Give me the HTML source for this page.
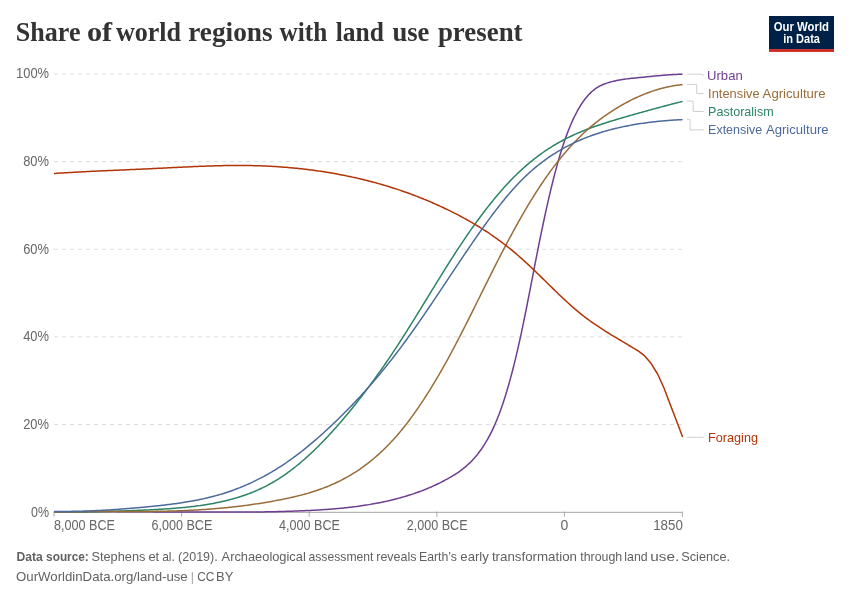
<!DOCTYPE html>
<html lang="en"><head><meta charset="utf-8"><title>Share of world regions with land use present</title>
<style>
html,body{margin:0;padding:0;background:#fff;}
body{width:850px;height:600px;overflow:hidden;font-family:"Liberation Sans",Arial,sans-serif;}
svg{display:block;}
svg text{font-family:"Liberation Sans",Arial,sans-serif;}
.title{font-family:"Liberation Serif","Times New Roman",serif;font-weight:700;font-size:28px;fill:#333;}
.ax{font-size:14px;fill:#666;}
.lab{font-size:13.3px;}
.foot{font-size:13px;fill:#616161;}
.logo{font-size:12px;font-weight:700;fill:#fff;}
.curves path{fill:none;stroke-width:1.5;stroke-linejoin:round;stroke-linecap:butt;}
.conn path{fill:none;stroke:#cfcfcf;stroke-width:1;}
</style></head>
<body>
<svg width="850" height="600" viewBox="0 0 850 600">
<rect width="850" height="600" fill="#fff"/>
<text y="40.5" class="title"><tspan x="15.80" textLength="64.70" lengthAdjust="spacingAndGlyphs">Share</tspan> <tspan x="87.00" textLength="25.20" lengthAdjust="spacingAndGlyphs">of</tspan> <tspan x="115.90" textLength="65.20" lengthAdjust="spacingAndGlyphs">world</tspan> <tspan x="188.20" textLength="84.50" lengthAdjust="spacingAndGlyphs">regions</tspan> <tspan x="279.50" textLength="47.70" lengthAdjust="spacingAndGlyphs">with</tspan> <tspan x="335.70" textLength="48.20" lengthAdjust="spacingAndGlyphs">land</tspan> <tspan x="392.40" textLength="37.00" lengthAdjust="spacingAndGlyphs">use</tspan> <tspan x="437.90" textLength="84.70" lengthAdjust="spacingAndGlyphs">present</tspan></text>
<g class="logo-g">
<rect x="769" y="16" width="65" height="33.2" fill="#002147"/>
<rect x="769" y="49.1" width="65" height="2.8" fill="#ce261e"/>
<text x="801.4" y="30.5" text-anchor="middle" class="logo" textLength="55.2" lengthAdjust="spacingAndGlyphs">Our World</text>
<text x="801.6" y="42.5" text-anchor="middle" class="logo" textLength="36.8" lengthAdjust="spacingAndGlyphs">in Data</text>
</g>
<g class="grid">
<text x="49.0" y="516.70" text-anchor="end" class="ax" textLength="18.0" lengthAdjust="spacingAndGlyphs">0%</text>
<line x1="54" x2="682.5" y1="424.55" y2="424.55" stroke="#dddddd" stroke-dasharray="4,4"/>
<text x="49.0" y="429.05" text-anchor="end" class="ax" textLength="25.85" lengthAdjust="spacingAndGlyphs">20%</text>
<line x1="54" x2="682.5" y1="336.90" y2="336.90" stroke="#dddddd" stroke-dasharray="4,4"/>
<text x="49.0" y="341.40" text-anchor="end" class="ax" textLength="25.85" lengthAdjust="spacingAndGlyphs">40%</text>
<line x1="54" x2="682.5" y1="249.25" y2="249.25" stroke="#dddddd" stroke-dasharray="4,4"/>
<text x="49.0" y="253.75" text-anchor="end" class="ax" textLength="25.85" lengthAdjust="spacingAndGlyphs">60%</text>
<line x1="54" x2="682.5" y1="161.60" y2="161.60" stroke="#dddddd" stroke-dasharray="4,4"/>
<text x="49.0" y="166.10" text-anchor="end" class="ax" textLength="25.85" lengthAdjust="spacingAndGlyphs">80%</text>
<line x1="54" x2="682.5" y1="73.95" y2="73.95" stroke="#dddddd" stroke-dasharray="4,4"/>
<text x="49.0" y="78.45" text-anchor="end" class="ax" textLength="32.9" lengthAdjust="spacingAndGlyphs">100%</text>
</g>
<g class="axis">
<line x1="54" x2="682.5" y1="512.3" y2="512.3" stroke="#a3a3a3"/>
<line x1="54" x2="54" y1="511.6" y2="516.9" stroke="#999" stroke-width="0.8"/>
<text x="54.0" y="530.0" text-anchor="start" class="ax" textLength="60.9" lengthAdjust="spacingAndGlyphs">8,000 BCE</text>
<line x1="181.6" x2="181.6" y1="511.6" y2="516.9" stroke="#999" stroke-width="0.8"/>
<text x="181.9" y="530.0" text-anchor="middle" class="ax" textLength="60.9" lengthAdjust="spacingAndGlyphs">6,000 BCE</text>
<line x1="309.2" x2="309.2" y1="511.6" y2="516.9" stroke="#999" stroke-width="0.8"/>
<text x="309.5" y="530.0" text-anchor="middle" class="ax" textLength="60.9" lengthAdjust="spacingAndGlyphs">4,000 BCE</text>
<line x1="436.8" x2="436.8" y1="511.6" y2="516.9" stroke="#999" stroke-width="0.8"/>
<text x="437.1" y="530.0" text-anchor="middle" class="ax" textLength="60.9" lengthAdjust="spacingAndGlyphs">2,000 BCE</text>
<line x1="564.4" x2="564.4" y1="511.6" y2="516.9" stroke="#999" stroke-width="0.8"/>
<text x="564.4" y="530.0" text-anchor="middle" class="ax">0</text>
<line x1="682.4" x2="682.4" y1="511.6" y2="516.9" stroke="#999" stroke-width="0.8"/>
<text x="682.9" y="530.0" text-anchor="end" class="ax" textLength="29.7" lengthAdjust="spacingAndGlyphs">1850</text>
</g>
<g class="curves">
<path d="M54.0,512.00L55.5,512.00L57.0,511.97L58.5,511.94L60.0,511.92L61.5,511.89L63.0,511.87L64.5,511.85L66.0,511.83L67.5,511.81L69.0,511.79L70.5,511.77L72.0,511.75L73.5,511.74L75.0,511.72L76.5,511.71L78.0,511.69L79.5,511.68L81.0,511.67L82.5,511.66L84.0,511.65L85.5,511.64L87.0,511.63L88.5,511.63L90.0,511.62L91.5,511.61L93.0,511.61L94.5,511.61L96.0,511.60L97.5,511.60L99.0,511.60L100.5,511.60L102.0,511.60L103.5,511.60L105.0,511.60L106.5,511.60L108.0,511.60L109.5,511.61L111.0,511.61L112.5,511.61L114.0,511.62L115.5,511.62L117.0,511.63L118.5,511.63L120.0,511.64L121.5,511.65L123.0,511.65L124.5,511.66L126.0,511.67L127.5,511.68L129.0,511.69L130.5,511.70L132.0,511.71L133.5,511.72L135.0,511.73L136.5,511.74L138.0,511.75L139.5,511.76L141.0,511.77L142.5,511.78L144.0,511.79L145.5,511.81L147.0,511.82L148.5,511.83L150.0,511.84L151.5,511.86L153.0,511.87L154.5,511.88L156.0,511.89L157.5,511.91L159.0,511.92L160.5,511.93L162.0,511.95L163.5,511.96L165.0,511.97L166.5,511.98L168.0,512.00L169.5,512.00L171.0,512.00L172.5,512.00L174.0,512.00L175.5,512.00L177.0,512.00L178.5,512.00L180.0,512.00L181.5,512.00L183.0,512.00L184.5,512.00L186.0,512.00L187.5,512.00L189.0,512.00L190.5,512.00L192.0,512.00L193.5,512.00L195.0,512.00L196.5,512.00L198.0,512.00L199.5,512.00L201.0,512.00L202.5,512.00L204.0,512.00L205.5,512.00L207.0,512.00L208.5,512.00L210.0,512.00L211.5,512.00L213.0,512.00L214.5,512.00L216.0,512.00L217.5,512.00L219.0,512.00L220.5,512.00L222.0,512.00L223.5,512.00L225.0,512.00L226.5,512.00L228.0,512.00L229.5,512.00L231.0,512.00L232.5,512.00L234.0,512.00L235.5,512.00L237.0,512.00L238.5,512.00L240.0,512.00L241.5,512.00L243.0,512.00L244.5,512.00L246.0,512.00L247.5,512.00L249.0,512.00L250.5,512.00L252.0,512.00L253.5,512.00L255.0,512.00L256.5,512.00L258.0,511.99L259.5,511.97L261.0,511.95L262.5,511.92L264.0,511.89L265.5,511.87L267.0,511.84L268.5,511.81L270.0,511.78L271.5,511.74L273.0,511.71L274.5,511.67L276.0,511.64L277.5,511.60L279.0,511.56L280.5,511.52L282.0,511.48L283.5,511.43L285.0,511.39L286.5,511.34L288.0,511.30L289.5,511.25L291.0,511.20L292.5,511.14L294.0,511.09L295.5,511.04L297.0,510.98L298.5,510.92L300.0,510.86L301.5,510.80L303.0,510.74L304.5,510.67L306.0,510.61L307.5,510.54L309.0,510.47L310.5,510.40L312.0,510.32L313.5,510.24L315.0,510.16L316.5,510.08L318.0,509.99L319.5,509.91L321.0,509.81L322.5,509.72L324.0,509.62L325.5,509.52L327.0,509.41L328.5,509.31L330.0,509.19L331.5,509.08L333.0,508.96L334.5,508.84L336.0,508.71L337.5,508.58L339.0,508.44L340.5,508.30L342.0,508.15L343.5,508.00L345.0,507.85L346.5,507.69L348.0,507.52L349.5,507.35L351.0,507.18L352.5,507.00L354.0,506.81L355.5,506.62L357.0,506.42L358.5,506.22L360.0,506.01L361.5,505.79L363.0,505.57L364.5,505.35L366.0,505.11L367.5,504.87L369.0,504.63L370.5,504.37L372.0,504.11L373.5,503.84L375.0,503.57L376.5,503.29L378.0,503.00L379.5,502.71L381.0,502.40L382.5,502.09L384.0,501.77L385.5,501.45L387.0,501.11L388.5,500.77L390.0,500.42L391.5,500.06L393.0,499.69L394.5,499.32L396.0,498.93L397.5,498.54L399.0,498.14L400.5,497.73L402.0,497.31L403.5,496.88L405.0,496.44L406.5,496.00L408.0,495.54L409.5,495.07L411.0,494.59L412.5,494.10L414.0,493.60L415.5,493.08L417.0,492.56L418.5,492.02L420.0,491.47L421.5,490.91L423.0,490.33L424.5,489.74L426.0,489.14L427.5,488.52L429.0,487.89L430.5,487.25L432.0,486.59L433.5,485.92L435.0,485.23L436.5,484.52L438.0,483.80L439.5,483.07L441.0,482.31L442.5,481.54L444.0,480.76L445.5,479.95L447.0,479.13L448.5,478.29L450.0,477.44L451.5,476.56L453.0,475.67L454.5,474.74L456.0,473.79L457.5,472.80L459.0,471.77L460.5,470.70L462.0,469.58L463.5,468.41L465.0,467.19L466.5,465.91L468.0,464.56L469.5,463.15L471.0,461.67L472.5,460.11L474.0,458.47L475.5,456.75L477.0,454.94L478.5,453.04L480.0,451.04L481.5,448.95L483.0,446.74L484.5,444.42L486.0,441.98L487.5,439.41L489.0,436.69L490.5,433.83L492.0,430.82L493.5,427.64L495.0,424.30L496.5,420.77L498.0,417.06L499.5,413.16L501.0,409.06L502.5,404.75L504.0,400.24L505.5,395.52L507.0,390.59L508.5,385.46L510.0,380.12L511.5,374.57L513.0,368.81L514.5,362.84L516.0,356.66L517.5,350.27L519.0,343.66L520.5,336.84L522.0,329.82L523.5,322.62L525.0,315.26L526.5,307.78L528.0,300.20L529.5,292.54L531.0,284.83L532.5,277.10L534.0,269.37L535.5,261.68L537.0,254.03L538.5,246.47L540.0,239.02L541.5,231.69L543.0,224.51L544.5,217.47L546.0,210.59L547.5,203.87L549.0,197.32L550.5,190.94L552.0,184.75L553.5,178.74L555.0,172.93L556.5,167.33L558.0,161.93L559.5,156.75L561.0,151.79L562.5,147.06L564.0,142.54L565.5,138.23L567.0,134.13L568.5,130.23L570.0,126.53L571.5,123.01L573.0,119.68L574.5,116.52L576.0,113.54L577.5,110.73L579.0,108.08L580.5,105.60L582.0,103.27L583.5,101.09L585.0,99.06L586.5,97.18L588.0,95.44L589.5,93.84L591.0,92.37L592.5,91.03L594.0,89.81L595.5,88.69L597.0,87.69L598.5,86.78L600.0,85.95L601.5,85.21L603.0,84.54L604.5,83.94L606.0,83.39L607.5,82.89L609.0,82.43L610.5,82.01L612.0,81.62L613.5,81.25L615.0,80.90L616.5,80.58L618.0,80.29L619.5,80.01L621.0,79.75L622.5,79.51L624.0,79.28L625.5,79.07L627.0,78.88L628.5,78.69L630.0,78.51L631.5,78.34L633.0,78.18L634.5,78.03L636.0,77.88L637.5,77.73L639.0,77.58L640.5,77.43L642.0,77.28L643.5,77.13L645.0,76.98L646.5,76.83L648.0,76.68L649.5,76.53L651.0,76.38L652.5,76.23L654.0,76.09L655.5,75.94L657.0,75.80L658.5,75.66L660.0,75.53L661.5,75.40L663.0,75.27L664.5,75.15L666.0,75.04L667.5,74.93L669.0,74.82L670.5,74.72L672.0,74.63L673.5,74.55L675.0,74.47L676.5,74.40L678.0,74.34L679.5,74.29L681.0,74.25L682.5,74.22L682.6,74.22" stroke="#6D3E91"/>
<path d="M54.0,511.99L55.5,512.00L57.0,512.00L58.5,512.00L60.0,512.00L61.5,512.00L63.0,512.00L64.5,512.00L66.0,512.00L67.5,512.00L69.0,512.00L70.5,512.00L72.0,512.00L73.5,512.00L75.0,512.00L76.5,511.99L78.0,511.98L79.5,511.97L81.0,511.95L82.5,511.94L84.0,511.92L85.5,511.90L87.0,511.88L88.5,511.86L90.0,511.83L91.5,511.81L93.0,511.78L94.5,511.75L96.0,511.72L97.5,511.69L99.0,511.66L100.5,511.63L102.0,511.59L103.5,511.56L105.0,511.52L106.5,511.48L108.0,511.44L109.5,511.40L111.0,511.36L112.5,511.31L114.0,511.27L115.5,511.22L117.0,511.17L118.5,511.12L120.0,511.07L121.5,511.02L123.0,510.97L124.5,510.91L126.0,510.86L127.5,510.80L129.0,510.74L130.5,510.68L132.0,510.62L133.5,510.56L135.0,510.50L136.5,510.43L138.0,510.37L139.5,510.30L141.0,510.23L142.5,510.16L144.0,510.09L145.5,510.02L147.0,509.95L148.5,509.88L150.0,509.80L151.5,509.72L153.0,509.65L154.5,509.57L156.0,509.49L157.5,509.41L159.0,509.32L160.5,509.23L162.0,509.15L163.5,509.05L165.0,508.96L166.5,508.86L168.0,508.76L169.5,508.66L171.0,508.55L172.5,508.44L174.0,508.33L175.5,508.21L177.0,508.09L178.5,507.96L180.0,507.83L181.5,507.69L183.0,507.55L184.5,507.40L186.0,507.25L187.5,507.10L189.0,506.93L190.5,506.77L192.0,506.59L193.5,506.41L195.0,506.22L196.5,506.03L198.0,505.83L199.5,505.63L201.0,505.41L202.5,505.19L204.0,504.96L205.5,504.73L207.0,504.48L208.5,504.23L210.0,503.97L211.5,503.71L213.0,503.43L214.5,503.15L216.0,502.85L217.5,502.55L219.0,502.24L220.5,501.92L222.0,501.59L223.5,501.25L225.0,500.90L226.5,500.53L228.0,500.16L229.5,499.78L231.0,499.38L232.5,498.98L234.0,498.56L235.5,498.13L237.0,497.68L238.5,497.22L240.0,496.75L241.5,496.27L243.0,495.77L244.5,495.25L246.0,494.72L247.5,494.18L249.0,493.62L250.5,493.04L252.0,492.45L253.5,491.84L255.0,491.21L256.5,490.57L258.0,489.91L259.5,489.23L261.0,488.53L262.5,487.81L264.0,487.08L265.5,486.32L267.0,485.55L268.5,484.76L270.0,483.94L271.5,483.11L273.0,482.25L274.5,481.37L276.0,480.47L277.5,479.55L279.0,478.61L280.5,477.64L282.0,476.65L283.5,475.64L285.0,474.60L286.5,473.55L288.0,472.47L289.5,471.37L291.0,470.24L292.5,469.10L294.0,467.94L295.5,466.75L297.0,465.54L298.5,464.31L300.0,463.06L301.5,461.80L303.0,460.51L304.5,459.20L306.0,457.87L307.5,456.52L309.0,455.15L310.5,453.76L312.0,452.36L313.5,450.93L315.0,449.49L316.5,448.03L318.0,446.55L319.5,445.05L321.0,443.53L322.5,442.00L324.0,440.45L325.5,438.88L327.0,437.30L328.5,435.69L330.0,434.08L331.5,432.44L333.0,430.79L334.5,429.12L336.0,427.44L337.5,425.74L339.0,424.03L340.5,422.30L342.0,420.55L343.5,418.79L345.0,417.02L346.5,415.23L348.0,413.42L349.5,411.60L351.0,409.77L352.5,407.92L354.0,406.05L355.5,404.17L357.0,402.28L358.5,400.37L360.0,398.44L361.5,396.50L363.0,394.55L364.5,392.58L366.0,390.60L367.5,388.60L369.0,386.58L370.5,384.56L372.0,382.51L373.5,380.46L375.0,378.38L376.5,376.30L378.0,374.19L379.5,372.08L381.0,369.95L382.5,367.80L384.0,365.64L385.5,363.47L387.0,361.28L388.5,359.08L390.0,356.86L391.5,354.63L393.0,352.38L394.5,350.12L396.0,347.84L397.5,345.55L399.0,343.25L400.5,340.93L402.0,338.60L403.5,336.25L405.0,333.90L406.5,331.53L408.0,329.15L409.5,326.75L411.0,324.35L412.5,321.95L414.0,319.53L415.5,317.11L417.0,314.68L418.5,312.24L420.0,309.80L421.5,307.36L423.0,304.91L424.5,302.46L426.0,300.01L427.5,297.56L429.0,295.11L430.5,292.66L432.0,290.21L433.5,287.77L435.0,285.32L436.5,282.89L438.0,280.45L439.5,278.02L441.0,275.60L442.5,273.19L444.0,270.78L445.5,268.38L447.0,265.99L448.5,263.61L450.0,261.25L451.5,258.89L453.0,256.55L454.5,254.22L456.0,251.90L457.5,249.60L459.0,247.32L460.5,245.05L462.0,242.80L463.5,240.56L465.0,238.35L466.5,236.15L468.0,233.97L469.5,231.81L471.0,229.66L472.5,227.54L474.0,225.43L475.5,223.34L477.0,221.28L478.5,219.23L480.0,217.20L481.5,215.19L483.0,213.20L484.5,211.24L486.0,209.29L487.5,207.36L489.0,205.46L490.5,203.57L492.0,201.71L493.5,199.87L495.0,198.05L496.5,196.26L498.0,194.48L499.5,192.73L501.0,191.00L502.5,189.30L504.0,187.62L505.5,185.96L507.0,184.33L508.5,182.72L510.0,181.13L511.5,179.57L513.0,178.03L514.5,176.52L516.0,175.03L517.5,173.57L519.0,172.14L520.5,170.73L522.0,169.34L523.5,167.98L525.0,166.65L526.5,165.34L528.0,164.06L529.5,162.80L531.0,161.56L532.5,160.35L534.0,159.16L535.5,157.99L537.0,156.85L538.5,155.72L540.0,154.62L541.5,153.55L543.0,152.49L544.5,151.45L546.0,150.44L547.5,149.44L549.0,148.46L550.5,147.51L552.0,146.57L553.5,145.65L555.0,144.75L556.5,143.87L558.0,143.01L559.5,142.16L561.0,141.33L562.5,140.52L564.0,139.73L565.5,138.95L567.0,138.19L568.5,137.44L570.0,136.71L571.5,135.99L573.0,135.29L574.5,134.60L576.0,133.92L577.5,133.26L579.0,132.62L580.5,131.98L582.0,131.36L583.5,130.75L585.0,130.15L586.5,129.56L588.0,128.98L589.5,128.41L591.0,127.85L592.5,127.30L594.0,126.76L595.5,126.23L597.0,125.71L598.5,125.20L600.0,124.69L601.5,124.19L603.0,123.70L604.5,123.21L606.0,122.73L607.5,122.26L609.0,121.79L610.5,121.32L612.0,120.86L613.5,120.41L615.0,119.95L616.5,119.50L618.0,119.06L619.5,118.61L621.0,118.17L622.5,117.73L624.0,117.30L625.5,116.86L627.0,116.43L628.5,115.99L630.0,115.56L631.5,115.14L633.0,114.71L634.5,114.28L636.0,113.86L637.5,113.44L639.0,113.02L640.5,112.60L642.0,112.18L643.5,111.77L645.0,111.35L646.5,110.94L648.0,110.53L649.5,110.12L651.0,109.71L652.5,109.30L654.0,108.89L655.5,108.49L657.0,108.08L658.5,107.68L660.0,107.28L661.5,106.88L663.0,106.48L664.5,106.08L666.0,105.68L667.5,105.28L669.0,104.88L670.5,104.49L672.0,104.09L673.5,103.70L675.0,103.30L676.5,102.91L678.0,102.51L679.5,102.12L681.0,101.73L682.5,101.34L682.6,101.31" stroke="#2C8465"/>
<path d="M54.0,512.00L55.5,511.98L57.0,511.95L58.5,511.92L60.0,511.89L61.5,511.86L63.0,511.84L64.5,511.81L66.0,511.79L67.5,511.77L69.0,511.75L70.5,511.73L72.0,511.71L73.5,511.70L75.0,511.68L76.5,511.67L78.0,511.66L79.5,511.65L81.0,511.64L82.5,511.63L84.0,511.62L85.5,511.62L87.0,511.61L88.5,511.60L90.0,511.60L91.5,511.60L93.0,511.59L94.5,511.59L96.0,511.59L97.5,511.59L99.0,511.59L100.5,511.59L102.0,511.59L103.5,511.59L105.0,511.59L106.5,511.59L108.0,511.59L109.5,511.59L111.0,511.59L112.5,511.59L114.0,511.59L115.5,511.59L117.0,511.59L118.5,511.59L120.0,511.59L121.5,511.59L123.0,511.59L124.5,511.59L126.0,511.59L127.5,511.58L129.0,511.58L130.5,511.58L132.0,511.57L133.5,511.57L135.0,511.56L136.5,511.56L138.0,511.55L139.5,511.54L141.0,511.53L142.5,511.52L144.0,511.51L145.5,511.49L147.0,511.48L148.5,511.46L150.0,511.45L151.5,511.43L153.0,511.41L154.5,511.39L156.0,511.37L157.5,511.34L159.0,511.32L160.5,511.29L162.0,511.26L163.5,511.23L165.0,511.19L166.5,511.16L168.0,511.12L169.5,511.08L171.0,511.04L172.5,511.00L174.0,510.96L175.5,510.91L177.0,510.86L178.5,510.81L180.0,510.75L181.5,510.70L183.0,510.64L184.5,510.58L186.0,510.51L187.5,510.44L189.0,510.37L190.5,510.30L192.0,510.23L193.5,510.15L195.0,510.07L196.5,509.99L198.0,509.90L199.5,509.81L201.0,509.72L202.5,509.62L204.0,509.52L205.5,509.42L207.0,509.31L208.5,509.21L210.0,509.09L211.5,508.98L213.0,508.86L214.5,508.74L216.0,508.61L217.5,508.49L219.0,508.35L220.5,508.22L222.0,508.08L223.5,507.94L225.0,507.79L226.5,507.64L228.0,507.49L229.5,507.33L231.0,507.17L232.5,507.01L234.0,506.84L235.5,506.67L237.0,506.50L238.5,506.32L240.0,506.14L241.5,505.95L243.0,505.76L244.5,505.57L246.0,505.37L247.5,505.17L249.0,504.97L250.5,504.76L252.0,504.55L253.5,504.33L255.0,504.11L256.5,503.88L258.0,503.65L259.5,503.42L261.0,503.19L262.5,502.94L264.0,502.70L265.5,502.45L267.0,502.20L268.5,501.94L270.0,501.68L271.5,501.41L273.0,501.14L274.5,500.87L276.0,500.59L277.5,500.30L279.0,500.02L280.5,499.72L282.0,499.43L283.5,499.13L285.0,498.82L286.5,498.51L288.0,498.19L289.5,497.86L291.0,497.53L292.5,497.20L294.0,496.85L295.5,496.50L297.0,496.14L298.5,495.77L300.0,495.39L301.5,495.00L303.0,494.60L304.5,494.20L306.0,493.78L307.5,493.35L309.0,492.91L310.5,492.46L312.0,492.00L313.5,491.53L315.0,491.04L316.5,490.55L318.0,490.04L319.5,489.51L321.0,488.97L322.5,488.42L324.0,487.85L325.5,487.27L327.0,486.68L328.5,486.07L330.0,485.44L331.5,484.80L333.0,484.14L334.5,483.46L336.0,482.76L337.5,482.05L339.0,481.32L340.5,480.58L342.0,479.81L343.5,479.02L345.0,478.22L346.5,477.40L348.0,476.55L349.5,475.69L351.0,474.80L352.5,473.89L354.0,472.96L355.5,472.01L357.0,471.04L358.5,470.04L360.0,469.03L361.5,467.98L363.0,466.92L364.5,465.83L366.0,464.71L367.5,463.57L369.0,462.40L370.5,461.21L372.0,459.99L373.5,458.75L375.0,457.48L376.5,456.18L378.0,454.85L379.5,453.50L381.0,452.11L382.5,450.70L384.0,449.26L385.5,447.79L387.0,446.29L388.5,444.75L390.0,443.19L391.5,441.60L393.0,439.97L394.5,438.32L396.0,436.63L397.5,434.90L399.0,433.15L400.5,431.36L402.0,429.54L403.5,427.68L405.0,425.80L406.5,423.87L408.0,421.92L409.5,419.94L411.0,417.92L412.5,415.87L414.0,413.79L415.5,411.67L417.0,409.53L418.5,407.35L420.0,405.15L421.5,402.91L423.0,400.65L424.5,398.35L426.0,396.03L427.5,393.68L429.0,391.29L430.5,388.88L432.0,386.44L433.5,383.97L435.0,381.48L436.5,378.96L438.0,376.40L439.5,373.83L441.0,371.22L442.5,368.59L444.0,365.93L445.5,363.25L447.0,360.54L448.5,357.80L450.0,355.04L451.5,352.26L453.0,349.45L454.5,346.61L456.0,343.76L457.5,340.89L459.0,337.99L460.5,335.08L462.0,332.16L463.5,329.21L465.0,326.26L466.5,323.29L468.0,320.31L469.5,317.32L471.0,314.32L472.5,311.32L474.0,308.31L475.5,305.29L477.0,302.27L478.5,299.24L480.0,296.22L481.5,293.19L483.0,290.17L484.5,287.14L486.0,284.13L487.5,281.11L489.0,278.11L490.5,275.11L492.0,272.11L493.5,269.13L495.0,266.16L496.5,263.20L498.0,260.26L499.5,257.33L501.0,254.41L502.5,251.52L504.0,248.64L505.5,245.78L507.0,242.93L508.5,240.11L510.0,237.31L511.5,234.52L513.0,231.76L514.5,229.02L516.0,226.30L517.5,223.61L519.0,220.93L520.5,218.28L522.0,215.66L523.5,213.06L525.0,210.49L526.5,207.94L528.0,205.42L529.5,202.92L531.0,200.46L532.5,198.02L534.0,195.61L535.5,193.24L537.0,190.89L538.5,188.57L540.0,186.28L541.5,184.03L543.0,181.81L544.5,179.62L546.0,177.46L547.5,175.33L549.0,173.23L550.5,171.17L552.0,169.13L553.5,167.13L555.0,165.16L556.5,163.22L558.0,161.30L559.5,159.42L561.0,157.57L562.5,155.75L564.0,153.96L565.5,152.20L567.0,150.46L568.5,148.76L570.0,147.09L571.5,145.44L573.0,143.83L574.5,142.24L576.0,140.69L577.5,139.16L579.0,137.66L580.5,136.19L582.0,134.74L583.5,133.32L585.0,131.94L586.5,130.57L588.0,129.24L589.5,127.93L591.0,126.64L592.5,125.38L594.0,124.15L595.5,122.94L597.0,121.75L598.5,120.58L600.0,119.44L601.5,118.32L603.0,117.22L604.5,116.15L606.0,115.09L607.5,114.06L609.0,113.04L610.5,112.05L612.0,111.07L613.5,110.11L615.0,109.17L616.5,108.25L618.0,107.34L619.5,106.46L621.0,105.58L622.5,104.73L624.0,103.89L625.5,103.07L627.0,102.26L628.5,101.47L630.0,100.70L631.5,99.94L633.0,99.20L634.5,98.48L636.0,97.78L637.5,97.09L639.0,96.42L640.5,95.76L642.0,95.12L643.5,94.50L645.0,93.90L646.5,93.31L648.0,92.75L649.5,92.20L651.0,91.66L652.5,91.15L654.0,90.65L655.5,90.17L657.0,89.71L658.5,89.26L660.0,88.84L661.5,88.43L663.0,88.04L664.5,87.67L666.0,87.32L667.5,86.98L669.0,86.66L670.5,86.37L672.0,86.09L673.5,85.82L675.0,85.58L676.5,85.36L678.0,85.15L679.5,84.97L681.0,84.80L682.5,84.65L682.6,84.64" stroke="#996D39"/>
<path d="M54.0,173.53L55.5,173.43L57.0,173.32L58.5,173.22L60.0,173.12L61.5,173.03L63.0,172.93L64.5,172.83L66.0,172.74L67.5,172.65L69.0,172.56L70.5,172.47L72.0,172.38L73.5,172.30L75.0,172.21L76.5,172.13L78.0,172.05L79.5,171.96L81.0,171.88L82.5,171.81L84.0,171.73L85.5,171.65L87.0,171.58L88.5,171.50L90.0,171.43L91.5,171.35L93.0,171.28L94.5,171.21L96.0,171.14L97.5,171.07L99.0,171.00L100.5,170.93L102.0,170.86L103.5,170.79L105.0,170.73L106.5,170.66L108.0,170.59L109.5,170.53L111.0,170.46L112.5,170.39L114.0,170.33L115.5,170.26L117.0,170.20L118.5,170.13L120.0,170.07L121.5,170.01L123.0,169.94L124.5,169.88L126.0,169.81L127.5,169.75L129.0,169.68L130.5,169.62L132.0,169.55L133.5,169.49L135.0,169.42L136.5,169.35L138.0,169.29L139.5,169.22L141.0,169.15L142.5,169.08L144.0,169.02L145.5,168.95L147.0,168.88L148.5,168.81L150.0,168.73L151.5,168.66L153.0,168.59L154.5,168.52L156.0,168.44L157.5,168.37L159.0,168.29L160.5,168.22L162.0,168.14L163.5,168.07L165.0,167.99L166.5,167.91L168.0,167.84L169.5,167.76L171.0,167.69L172.5,167.61L174.0,167.54L175.5,167.46L177.0,167.39L178.5,167.31L180.0,167.24L181.5,167.16L183.0,167.09L184.5,167.02L186.0,166.95L187.5,166.88L189.0,166.81L190.5,166.74L192.0,166.67L193.5,166.61L195.0,166.54L196.5,166.48L198.0,166.42L199.5,166.36L201.0,166.30L202.5,166.24L204.0,166.18L205.5,166.13L207.0,166.07L208.5,166.02L210.0,165.97L211.5,165.93L213.0,165.88L214.5,165.84L216.0,165.80L217.5,165.76L219.0,165.72L220.5,165.69L222.0,165.65L223.5,165.62L225.0,165.60L226.5,165.57L228.0,165.55L229.5,165.53L231.0,165.52L232.5,165.50L234.0,165.49L235.5,165.48L237.0,165.48L238.5,165.48L240.0,165.48L241.5,165.48L243.0,165.49L244.5,165.50L246.0,165.52L247.5,165.54L249.0,165.56L250.5,165.59L252.0,165.62L253.5,165.65L255.0,165.69L256.5,165.73L258.0,165.77L259.5,165.82L261.0,165.87L262.5,165.93L264.0,165.99L265.5,166.06L267.0,166.12L268.5,166.20L270.0,166.27L271.5,166.35L273.0,166.43L274.5,166.52L276.0,166.61L277.5,166.71L279.0,166.81L280.5,166.91L282.0,167.02L283.5,167.14L285.0,167.25L286.5,167.37L288.0,167.50L289.5,167.63L291.0,167.76L292.5,167.90L294.0,168.04L295.5,168.19L297.0,168.34L298.5,168.49L300.0,168.65L301.5,168.81L303.0,168.98L304.5,169.15L306.0,169.33L307.5,169.51L309.0,169.70L310.5,169.89L312.0,170.08L313.5,170.28L315.0,170.49L316.5,170.70L318.0,170.91L319.5,171.13L321.0,171.35L322.5,171.58L324.0,171.81L325.5,172.04L327.0,172.29L328.5,172.53L330.0,172.78L331.5,173.04L333.0,173.30L334.5,173.56L336.0,173.83L337.5,174.11L339.0,174.39L340.5,174.67L342.0,174.96L343.5,175.26L345.0,175.55L346.5,175.86L348.0,176.17L349.5,176.48L351.0,176.80L352.5,177.13L354.0,177.46L355.5,177.79L357.0,178.13L358.5,178.48L360.0,178.83L361.5,179.18L363.0,179.54L364.5,179.91L366.0,180.28L367.5,180.66L369.0,181.04L370.5,181.43L372.0,181.82L373.5,182.22L375.0,182.63L376.5,183.04L378.0,183.45L379.5,183.88L381.0,184.30L382.5,184.74L384.0,185.18L385.5,185.62L387.0,186.07L388.5,186.53L390.0,187.00L391.5,187.46L393.0,187.94L394.5,188.42L396.0,188.91L397.5,189.40L399.0,189.90L400.5,190.41L402.0,190.92L403.5,191.44L405.0,191.97L406.5,192.50L408.0,193.04L409.5,193.58L411.0,194.13L412.5,194.69L414.0,195.26L415.5,195.83L417.0,196.41L418.5,196.99L420.0,197.58L421.5,198.18L423.0,198.78L424.5,199.40L426.0,200.02L427.5,200.64L429.0,201.27L430.5,201.91L432.0,202.56L433.5,203.21L435.0,203.87L436.5,204.54L438.0,205.22L439.5,205.90L441.0,206.59L442.5,207.29L444.0,207.99L445.5,208.70L447.0,209.42L448.5,210.15L450.0,210.88L451.5,211.63L453.0,212.37L454.5,213.13L456.0,213.90L457.5,214.67L459.0,215.45L460.5,216.25L462.0,217.05L463.5,217.86L465.0,218.67L466.5,219.50L468.0,220.34L469.5,221.19L471.0,222.05L472.5,222.92L474.0,223.80L475.5,224.69L477.0,225.59L478.5,226.51L480.0,227.43L481.5,228.37L483.0,229.32L484.5,230.28L486.0,231.25L487.5,232.24L489.0,233.24L490.5,234.25L492.0,235.28L493.5,236.32L495.0,237.37L496.5,238.44L498.0,239.52L499.5,240.61L501.0,241.72L502.5,242.85L504.0,243.99L505.5,245.14L507.0,246.31L508.5,247.50L510.0,248.70L511.5,249.92L513.0,251.15L514.5,252.40L516.0,253.67L517.5,254.95L519.0,256.25L520.5,257.57L522.0,258.91L523.5,260.26L525.0,261.62L526.5,263.00L528.0,264.40L529.5,265.80L531.0,267.22L532.5,268.65L534.0,270.09L535.5,271.53L537.0,272.98L538.5,274.44L540.0,275.90L541.5,277.37L543.0,278.84L544.5,280.31L546.0,281.78L547.5,283.25L549.0,284.73L550.5,286.20L552.0,287.66L553.5,289.13L555.0,290.58L556.5,292.04L558.0,293.48L559.5,294.92L561.0,296.35L562.5,297.76L564.0,299.17L565.5,300.57L567.0,301.95L568.5,303.32L570.0,304.67L571.5,306.01L573.0,307.33L574.5,308.63L576.0,309.91L577.5,311.17L579.0,312.41L580.5,313.63L582.0,314.83L583.5,316.01L585.0,317.16L586.5,318.30L588.0,319.41L589.5,320.51L591.0,321.59L592.5,322.65L594.0,323.69L595.5,324.72L597.0,325.74L598.5,326.74L600.0,327.73L601.5,328.71L603.0,329.67L604.5,330.63L606.0,331.57L607.5,332.51L609.0,333.43L610.5,334.35L612.0,335.27L613.5,336.17L615.0,337.07L616.5,337.97L618.0,338.87L619.5,339.76L621.0,340.64L622.5,341.53L624.0,342.42L625.5,343.31L627.0,344.20L628.5,345.09L630.0,345.98L631.5,346.87L633.0,347.78L634.5,348.68L636.0,349.59L637.5,350.51L638.2,350.94L644.7,355.90L651.2,363.60L657.6,374.00L664.0,388.00L670.9,406.20L677.9,424.40L682.6,437.00" stroke="#B13507"/>
<path d="M54.0,511.38L55.5,511.40L57.0,511.41L58.5,511.43L60.0,511.43L61.5,511.44L63.0,511.44L64.5,511.43L66.0,511.43L67.5,511.42L69.0,511.41L70.5,511.39L72.0,511.37L73.5,511.35L75.0,511.32L76.5,511.29L78.0,511.26L79.5,511.22L81.0,511.18L82.5,511.14L84.0,511.09L85.5,511.04L87.0,510.99L88.5,510.94L90.0,510.88L91.5,510.82L93.0,510.75L94.5,510.69L96.0,510.62L97.5,510.55L99.0,510.47L100.5,510.40L102.0,510.32L103.5,510.23L105.0,510.15L106.5,510.06L108.0,509.97L109.5,509.88L111.0,509.78L112.5,509.68L114.0,509.58L115.5,509.48L117.0,509.38L118.5,509.27L120.0,509.16L121.5,509.05L123.0,508.93L124.5,508.82L126.0,508.70L127.5,508.58L129.0,508.46L130.5,508.33L132.0,508.21L133.5,508.08L135.0,507.95L136.5,507.82L138.0,507.68L139.5,507.55L141.0,507.41L142.5,507.27L144.0,507.13L145.5,506.99L147.0,506.84L148.5,506.70L150.0,506.55L151.5,506.40L153.0,506.25L154.5,506.10L156.0,505.95L157.5,505.79L159.0,505.63L160.5,505.47L162.0,505.30L163.5,505.13L165.0,504.96L166.5,504.79L168.0,504.61L169.5,504.42L171.0,504.24L172.5,504.04L174.0,503.85L175.5,503.65L177.0,503.44L178.5,503.23L180.0,503.01L181.5,502.79L183.0,502.56L184.5,502.33L186.0,502.09L187.5,501.84L189.0,501.59L190.5,501.33L192.0,501.06L193.5,500.78L195.0,500.50L196.5,500.21L198.0,499.91L199.5,499.61L201.0,499.29L202.5,498.97L204.0,498.64L205.5,498.30L207.0,497.95L208.5,497.59L210.0,497.22L211.5,496.84L213.0,496.45L214.5,496.06L216.0,495.65L217.5,495.23L219.0,494.80L220.5,494.36L222.0,493.91L223.5,493.44L225.0,492.97L226.5,492.48L228.0,491.98L229.5,491.48L231.0,490.95L232.5,490.42L234.0,489.88L235.5,489.32L237.0,488.75L238.5,488.17L240.0,487.58L241.5,486.97L243.0,486.35L244.5,485.72L246.0,485.08L247.5,484.42L249.0,483.75L250.5,483.07L252.0,482.37L253.5,481.66L255.0,480.94L256.5,480.20L258.0,479.45L259.5,478.69L261.0,477.91L262.5,477.12L264.0,476.32L265.5,475.50L267.0,474.66L268.5,473.82L270.0,472.96L271.5,472.08L273.0,471.19L274.5,470.28L276.0,469.36L277.5,468.43L279.0,467.48L280.5,466.51L282.0,465.53L283.5,464.54L285.0,463.53L286.5,462.50L288.0,461.46L289.5,460.41L291.0,459.34L292.5,458.26L294.0,457.16L295.5,456.05L297.0,454.92L298.5,453.79L300.0,452.63L301.5,451.47L303.0,450.29L304.5,449.10L306.0,447.89L307.5,446.67L309.0,445.44L310.5,444.20L312.0,442.94L313.5,441.67L315.0,440.39L316.5,439.09L318.0,437.79L319.5,436.47L321.0,435.14L322.5,433.79L324.0,432.44L325.5,431.07L327.0,429.70L328.5,428.31L330.0,426.91L331.5,425.50L333.0,424.08L334.5,422.64L336.0,421.20L337.5,419.75L339.0,418.28L340.5,416.81L342.0,415.32L343.5,413.82L345.0,412.32L346.5,410.80L348.0,409.27L349.5,407.73L351.0,406.18L352.5,404.62L354.0,403.05L355.5,401.46L357.0,399.87L358.5,398.26L360.0,396.64L361.5,395.00L363.0,393.36L364.5,391.70L366.0,390.03L367.5,388.35L369.0,386.66L370.5,384.95L372.0,383.23L373.5,381.49L375.0,379.74L376.5,377.98L378.0,376.21L379.5,374.42L381.0,372.62L382.5,370.80L384.0,368.97L385.5,367.12L387.0,365.26L388.5,363.39L390.0,361.50L391.5,359.59L393.0,357.68L394.5,355.74L396.0,353.79L397.5,351.83L399.0,349.85L400.5,347.85L402.0,345.84L403.5,343.81L405.0,341.77L406.5,339.71L408.0,337.64L409.5,335.56L411.0,333.47L412.5,331.36L414.0,329.24L415.5,327.11L417.0,324.97L418.5,322.82L420.0,320.66L421.5,318.49L423.0,316.31L424.5,314.12L426.0,311.92L427.5,309.72L429.0,307.51L430.5,305.29L432.0,303.07L433.5,300.85L435.0,298.61L436.5,296.38L438.0,294.14L439.5,291.89L441.0,289.65L442.5,287.40L444.0,285.15L445.5,282.89L447.0,280.64L448.5,278.39L450.0,276.13L451.5,273.88L453.0,271.63L454.5,269.38L456.0,267.13L457.5,264.88L459.0,262.64L460.5,260.40L462.0,258.16L463.5,255.93L465.0,253.70L466.5,251.48L468.0,249.27L469.5,247.06L471.0,244.86L472.5,242.68L474.0,240.50L475.5,238.33L477.0,236.17L478.5,234.02L480.0,231.88L481.5,229.76L483.0,227.65L484.5,225.56L486.0,223.48L487.5,221.41L489.0,219.36L490.5,217.33L492.0,215.32L493.5,213.32L495.0,211.35L496.5,209.39L498.0,207.45L499.5,205.54L501.0,203.64L502.5,201.77L504.0,199.92L505.5,198.10L507.0,196.30L508.5,194.52L510.0,192.77L511.5,191.05L513.0,189.35L514.5,187.68L516.0,186.04L517.5,184.43L519.0,182.85L520.5,181.30L522.0,179.78L523.5,178.29L525.0,176.83L526.5,175.40L528.0,174.00L529.5,172.63L531.0,171.28L532.5,169.97L534.0,168.68L535.5,167.41L537.0,166.18L538.5,164.97L540.0,163.79L541.5,162.63L543.0,161.49L544.5,160.38L546.0,159.30L547.5,158.23L549.0,157.20L550.5,156.18L552.0,155.18L553.5,154.21L555.0,153.26L556.5,152.33L558.0,151.42L559.5,150.53L561.0,149.66L562.5,148.81L564.0,147.97L565.5,147.16L567.0,146.36L568.5,145.58L570.0,144.82L571.5,144.08L573.0,143.35L574.5,142.63L576.0,141.94L577.5,141.26L579.0,140.59L580.5,139.94L582.0,139.30L583.5,138.68L585.0,138.07L586.5,137.48L588.0,136.90L589.5,136.34L591.0,135.78L592.5,135.25L594.0,134.72L595.5,134.21L597.0,133.71L598.5,133.22L600.0,132.74L601.5,132.28L603.0,131.82L604.5,131.38L606.0,130.95L607.5,130.53L609.0,130.12L610.5,129.72L612.0,129.33L613.5,128.96L615.0,128.59L616.5,128.23L618.0,127.87L619.5,127.53L621.0,127.20L622.5,126.87L624.0,126.56L625.5,126.25L627.0,125.95L628.5,125.66L630.0,125.37L631.5,125.10L633.0,124.83L634.5,124.57L636.0,124.32L637.5,124.07L639.0,123.83L640.5,123.60L642.0,123.38L643.5,123.16L645.0,122.95L646.5,122.74L648.0,122.55L649.5,122.36L651.0,122.17L652.5,122.00L654.0,121.82L655.5,121.66L657.0,121.50L658.5,121.35L660.0,121.20L661.5,121.06L663.0,120.92L664.5,120.79L666.0,120.67L667.5,120.55L669.0,120.43L670.5,120.32L672.0,120.22L673.5,120.12L675.0,120.02L676.5,119.93L678.0,119.85L679.5,119.77L681.0,119.69L682.5,119.62L682.6,119.61" stroke="#4C6A9C"/>
</g>
<g class="conn">
<path d="M687,74.2H699.8L703.7,75.2"/>
<path d="M687,84.4H696.7V93.5H703.7"/>
<path d="M687,101.1H693.2V111.5H703.7"/>
<path d="M687,119.4H690V129.9H703.7"/>
<path d="M687,437.3H703.7"/>
</g>
<g class="labels">
<text y="79.7" class="lab" fill="#6D3E91"><tspan x="707.06" textLength="35.68" lengthAdjust="spacingAndGlyphs">Urban</tspan></text>
<text y="97.9" class="lab" fill="#996D39"><tspan x="708.10" textLength="51.52" lengthAdjust="spacingAndGlyphs">Intensive</tspan> <tspan x="762.60" textLength="63.00" lengthAdjust="spacingAndGlyphs">Agriculture</tspan></text>
<text y="116.0" class="lab" fill="#2C8465"><tspan x="708.10" textLength="65.52" lengthAdjust="spacingAndGlyphs">Pastoralism</tspan></text>
<text y="134.1" class="lab" fill="#4C6A9C"><tspan x="708.10" textLength="54.10" lengthAdjust="spacingAndGlyphs">Extensive</tspan> <tspan x="765.90" textLength="62.70" lengthAdjust="spacingAndGlyphs">Agriculture</tspan></text>
<text y="442.0" class="lab" fill="#B13507"><tspan x="708.10" textLength="49.88" lengthAdjust="spacingAndGlyphs">Foraging</tspan></text>
</g>
<g class="footer">
<text y="561.3" class="foot"><tspan x="16.60" textLength="26.28" lengthAdjust="spacingAndGlyphs" font-weight="700">Data</tspan> <tspan x="46.10" textLength="42.70" lengthAdjust="spacingAndGlyphs" font-weight="700">source:</tspan> <tspan x="91.40" textLength="54.00" lengthAdjust="spacingAndGlyphs">Stephens</tspan> <tspan x="148.40" textLength="10.80" lengthAdjust="spacingAndGlyphs">et</tspan> <tspan x="162.20" textLength="12.70" lengthAdjust="spacingAndGlyphs">al.</tspan> <tspan x="178.00" textLength="39.78" lengthAdjust="spacingAndGlyphs">(2019).</tspan> <tspan x="221.60" textLength="84.16" lengthAdjust="spacingAndGlyphs">Archaeological</tspan> <tspan x="308.50" textLength="65.00" lengthAdjust="spacingAndGlyphs">assessment</tspan> <tspan x="376.24" textLength="40.16" lengthAdjust="spacingAndGlyphs">reveals</tspan> <tspan x="418.94" textLength="38.06" lengthAdjust="spacingAndGlyphs">Earth’s</tspan> <tspan x="460.30" textLength="28.60" lengthAdjust="spacingAndGlyphs">early</tspan> <tspan x="491.90" textLength="85.10" lengthAdjust="spacingAndGlyphs">transformation</tspan> <tspan x="580.30" textLength="41.88" lengthAdjust="spacingAndGlyphs">through</tspan> <tspan x="624.30" textLength="23.34" lengthAdjust="spacingAndGlyphs">land</tspan> <tspan x="650.30" textLength="28.98" lengthAdjust="spacingAndGlyphs">use.</tspan> <tspan x="681.24" textLength="48.78" lengthAdjust="spacingAndGlyphs">Science.</tspan></text>
<text y="580.7" class="foot"><tspan x="16.00" textLength="171.70" lengthAdjust="spacingAndGlyphs">OurWorldinData.org/land-use</tspan> <tspan x="191.20" textLength="1.90" lengthAdjust="spacingAndGlyphs">|</tspan> <tspan x="197.20" textLength="17.24" lengthAdjust="spacingAndGlyphs">CC</tspan> <tspan x="216.10" textLength="17.30" lengthAdjust="spacingAndGlyphs">BY</tspan></text>
</g>
</svg>
</body></html>
